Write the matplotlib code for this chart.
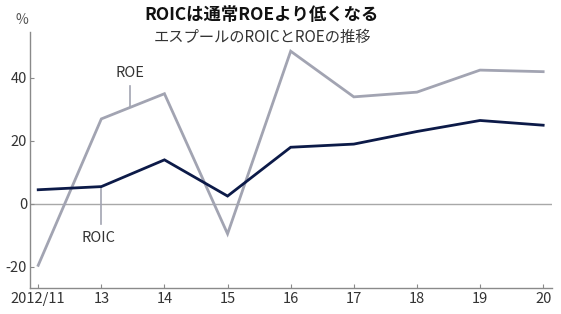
import matplotlib
matplotlib.use("Agg")
import matplotlib.pyplot as plt

plt.rcParams['font.family'] = ['Noto Sans CJK JP', 'DejaVu Sans']

years = ["2012/11", "13", "14", "15", "16", "17", "18", "19", "20"]
roe = [-19.5, 27, 35, -9.5, 48.5, 34, 35.5, 42.5, 42]
roic = [4.5, 5.5, 14, 2.5, 18, 19, 23, 26.5, 25]
yticks = [-20, 0, 20, 40]

fig = plt.figure(figsize=(5.61, 3.14), dpi=100)
ax = fig.add_axes([30/561, 1-288/314, (552-30)/561, (288-32)/314])

x = list(range(len(years)))
gray = "#a2a4b2"
navy = "#0c1a48"
axcol = "#8a8a8a"

ax.axhline(0, color="#a8a8a8", lw=1.0, zorder=1)
ax.plot(x, roe, color=gray, lw=2.0, zorder=2, solid_joinstyle="miter")
ax.plot(x, roic, color=navy, lw=2.0, zorder=3, solid_joinstyle="miter")

ax.set_xlim(-0.13, 8.14)
ax.set_ylim(-26.7, 54.6)
ax.set_xticks(x)
ax.set_xticklabels(years)
ax.set_yticks(yticks)
ax.set_yticklabels([str(v) for v in yticks])

for s in ["top", "right"]:
    ax.spines[s].set_visible(False)
for s in ["left", "bottom"]:
    ax.spines[s].set_color(axcol)
    ax.spines[s].set_linewidth(1.0)
ax.tick_params(axis="both", direction="in", length=3, width=0.8, color=axcol,
               labelsize=10.5, labelcolor="#333333", pad=3)
ax.tick_params(axis="y", pad=2)

# annotations
ax.plot([1.45, 1.45], [30.8, 37.5], color=gray, lw=1.2, zorder=2)
ax.text(1.45, 39.5, "ROE", ha="center", va="bottom", fontsize=10.5, color="#333333")
ax.plot([1.0, 1.0], [5.5, -6.5], color=gray, lw=1.2, zorder=2)
ax.text(0.95, -8.5, "ROIC", ha="center", va="top", fontsize=10.5, color="#333333")

fig.text(22/561, 1-20/314, "%", ha="center", va="center", fontsize=10, color="#555555")
fig.text(262/561, 1-15/314, "ROICは通常ROEより低くなる", ha="center", va="center",
         fontsize=12.5, fontweight="bold", color="#111111")
fig.text(262/561, 1-37/314, "エスプールのROICとROEの推移", ha="center", va="center",
         fontsize=11, color="#333333")

fig.savefig("out.png", dpi=100)
